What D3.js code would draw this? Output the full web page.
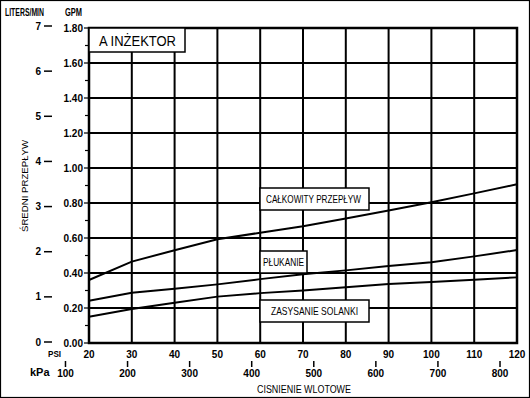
<!DOCTYPE html>
<html>
<head>
<meta charset="utf-8">
<script src="https://cdn.jsdelivr.net/npm/d3@7"></script>
<style>
html,body{margin:0;padding:0;background:#fff;}
svg{display:block;font-family:"Liberation Sans",Arial,sans-serif;}
</style>
</head>
<body>
<svg id="c" width="530" height="398"></svg>
<script>
// ---- data ----
const psi = [20, 30, 40, 50, 60, 70, 80, 90, 100, 110, 120];
const totalFlow = [0.36, 0.465, 0.53, 0.593, 0.63, 0.667, 0.712, 0.757, 0.804, 0.855, 0.907];
const rinseFlow = [0.242, 0.287, 0.31, 0.335, 0.365, 0.393, 0.415, 0.44, 0.462, 0.495, 0.531];
const brineFlow = [0.15, 0.194, 0.23, 0.265, 0.285, 0.3, 0.318, 0.337, 0.348, 0.362, 0.375];
const gpmTicks = [0, 0.2, 0.4, 0.6, 0.8, 1.0, 1.2, 1.4, 1.6, 1.8];
const literTicks = [0, 1, 2, 3, 4, 5, 6, 7];
const kpaTicks = [100, 200, 300, 400, 500, 600, 700, 800];
const seriesLabels = ["CAŁKOWITY PRZEPŁYW", "PŁUKANIE", "ZASYSANIE SOLANKI"];
const title = "A INŻEKTOR";

const svg = d3.select("#c");
const x = d3.scaleLinear().domain([20, 120]).range([89, 517]);
const y = d3.scaleLinear().domain([0, 1.8]).range([343, 28]);
const yL = d3.scaleLinear().domain([0, 7]).range([342, 26]);
const kpaToPsi = k => k * 0.145038;

// outer frame
svg.append("rect").attr("x", 0.5).attr("y", 0.5).attr("width", 529).attr("height", 397)
  .attr("fill", "none").attr("stroke", "#000").attr("stroke-width", 1.2);

// gridlines
const grid = svg.append("g").attr("stroke", "#000");
psi.filter(p => p > 20 && p < 120).forEach(p => {
  grid.append("line").attr("x1", x(p)).attr("x2", x(p)).attr("y1", y(0)).attr("y2", y(1.8))
    .attr("stroke-width", 2);
});
gpmTicks.filter(v => v > 0 && v < 1.8).forEach(v => {
  grid.append("line").attr("x1", x(20)).attr("x2", x(120)).attr("y1", y(v)).attr("y2", y(v))
    .attr("stroke-width", 2);
});
// plot frame
svg.append("rect").attr("x", x(20)).attr("y", y(1.8)).attr("width", x(120) - x(20)).attr("height", y(0) - y(1.8))
  .attr("fill", "none").attr("stroke", "#000").attr("stroke-width", 2.5);

// GPM axis ticks + labels
const minor = d3.range(0.1, 1.8, 0.2);
minor.forEach(v => {
  svg.append("line").attr("x1", x(20) - 4).attr("x2", x(20)).attr("y1", y(v)).attr("y2", y(v))
    .attr("stroke", "#000").attr("stroke-width", 1.2);
});
gpmTicks.forEach(v => {
  svg.append("line").attr("x1", x(20) - 5).attr("x2", x(20)).attr("y1", y(v)).attr("y2", y(v))
    .attr("stroke", "#000").attr("stroke-width", 1.2);
  svg.append("text").attr("x", x(20) - 6).attr("y", y(v) + 3.5).attr("text-anchor", "end")
    .attr("font-size", 10).attr("font-weight", "bold").text(v.toFixed(2));
});

// Liters axis labels
literTicks.forEach(v => {
  svg.append("text").attr("x", 41).attr("y", yL(v) + 3.5).attr("text-anchor", "end")
    .attr("font-size", 10).attr("font-weight", "bold").text(v);
  svg.append("line").attr("x1", 44).attr("x2", 52).attr("y1", yL(v)).attr("y2", yL(v))
    .attr("stroke", "#000").attr("stroke-width", 1.5);
});
svg.append("text").attr("x", 5).attr("y", 16).attr("font-size", 10).attr("font-weight", "bold")
  .attr("textLength", 39).attr("lengthAdjust", "spacingAndGlyphs").text("LITERS/MIN");
svg.append("text").attr("x", 65).attr("y", 16).attr("font-size", 10).attr("font-weight", "bold")
  .attr("textLength", 17).attr("lengthAdjust", "spacingAndGlyphs").text("GPM");

// y title
svg.append("text").attr("transform", "translate(28,186) rotate(-90)").attr("text-anchor", "middle")
  .attr("font-size", 9.5).attr("textLength", 92).attr("lengthAdjust", "spacingAndGlyphs").text("ŚREDNI PRZEPŁYW");

// PSI axis labels
svg.append("text").attr("x", 48).attr("y", 357).attr("font-size", 9).attr("font-weight", "bold")
  .attr("textLength", 13).attr("lengthAdjust", "spacingAndGlyphs").text("PSI");
psi.forEach(p => {
  svg.append("text").attr("x", x(p)).attr("y", 358).attr("text-anchor", "middle")
    .attr("font-size", 10).attr("font-weight", "bold").text(p);
});
// kPa axis
svg.append("text").attr("x", 30).attr("y", 376).attr("font-size", 11).attr("font-weight", "bold").text("kPa");
kpaTicks.forEach(k => {
  const px = x(kpaToPsi(k));
  svg.append("line").attr("x1", px).attr("x2", px).attr("y1", 361).attr("y2", 367)
    .attr("stroke", "#000").attr("stroke-width", 1.5);
  svg.append("text").attr("x", px).attr("y", 377).attr("text-anchor", "middle")
    .attr("font-size", 10).attr("font-weight", "bold").text(k);
});
svg.append("text").attr("x", 257).attr("y", 393).attr("font-size", 10)
  .attr("textLength", 94).attr("lengthAdjust", "spacingAndGlyphs").text("CISNIENIE WLOTOWE");

// curves
const line = d3.line().x((d, i) => x(psi[i])).y(d => y(d));
[totalFlow, rinseFlow, brineFlow].forEach(s => {
  svg.append("path").attr("d", line(s)).attr("fill", "none").attr("stroke", "#000").attr("stroke-width", 2);
});

// label boxes
const boxes = [
  {x0: 260, x1: 369, y0: 188, y1: 210, tx: 266, tw: 95},
  {x0: 260, x1: 307, y0: 251, y1: 273, tx: 263, tw: 41},
  {x0: 260, x1: 369, y0: 300, y1: 322, tx: 271, tw: 87}
];
boxes.forEach((b, i) => {
  svg.append("rect").attr("x", b.x0).attr("y", b.y0).attr("width", b.x1 - b.x0).attr("height", b.y1 - b.y0)
    .attr("fill", "#fff").attr("stroke", "#000").attr("stroke-width", 1.5);
  svg.append("text").attr("x", b.tx).attr("y", (b.y0 + b.y1) / 2 + 4).attr("font-size", 10.5)
    .attr("textLength", b.tw).attr("lengthAdjust", "spacingAndGlyphs").text(seriesLabels[i]);
});

// title box
svg.append("rect").attr("x", x(20)).attr("y", y(1.8)).attr("width", 96).attr("height", 24)
  .attr("fill", "#fff").attr("stroke", "#000").attr("stroke-width", 1.5);
svg.append("text").attr("x", 99).attr("y", 45.5).attr("font-size", 15)
  .attr("textLength", 77).attr("lengthAdjust", "spacingAndGlyphs").text(title);
</script>
</body>
</html>
